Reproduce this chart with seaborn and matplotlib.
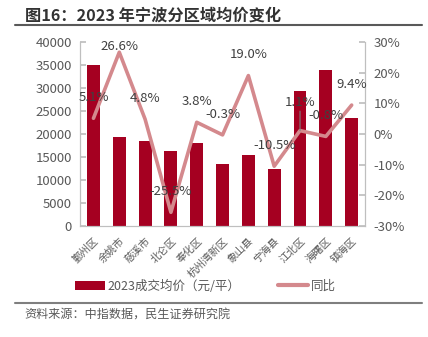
import numpy as np
import pandas as pd
import matplotlib
matplotlib.use("Agg")
import matplotlib.pyplot as plt
import seaborn as sns
from matplotlib.patches import Patch
from matplotlib.lines import Line2D
from matplotlib.ticker import FuncFormatter

districts = ["鄞州区", "余姚市", "慈溪市", "北仑区", "奉化区", "杭州湾新区", "象山县",
             "宁海县", "江北区", "海曙区", "镇海区"]
prices = [34900, 19300, 18400, 16200, 18000, 13400, 15400, 12500, 29300, 33800, 23500]
yoy = [5.1, 26.6, 4.8, -25.5, 3.8, -0.3, 19.0, -10.5, 1.1, -0.8, 9.4]
yoy_labels = ["5.1%", "26.6%", "4.8%", "-25.5%", "3.8%", "-0.3%", "19.0%", "-10.5%",
              "1.1%", "-0.8%", "9.4%"]

sns.set_theme(style="white")
plt.rcParams['font.family'] = ['Noto Sans CJK SC', 'DejaVu Sans']
plt.rcParams['axes.unicode_minus'] = False

BAR = "#A50021"
LINE = "#D4898D"
TXT = "#595959"

fig = plt.figure(figsize=(4.28, 3.37), dpi=100)
ax = fig.add_axes([0.187, 0.329, 0.666, 0.547])
df = pd.DataFrame({"district": districts, "price": prices, "yoy": yoy})
sns.barplot(data=df, x="district", y="price", color=BAR, width=0.5, ax=ax,
            saturation=1, edgecolor="none")
ax.set_ylim(0, 40000)
ax.set_yticks(np.arange(0, 40001, 5000))
ax.set_xlim(-0.52, 10.52)
ax.set_xlabel("")
ax.set_ylabel("")

ax2 = ax.twinx()
sns.lineplot(x=np.arange(len(yoy)), y=np.array(yoy) / 100, ax=ax2, color=LINE,
             linewidth=2.6)
ax2.set_ylim(-0.3, 0.3)
ax2.set_yticks(np.arange(-0.3, 0.31, 0.1))
ax2.yaxis.set_major_formatter(FuncFormatter(lambda v, p: f"{v*100:.0f}%"))
ax2.set_xlim(-0.52, 10.52)

for a in (ax, ax2):
    for s in a.spines.values():
        s.set_color("#BFBFBF")
        s.set_linewidth(0.8)
    a.spines["top"].set_visible(False)
ax.spines["bottom"].set_color("#D9D9D9")

ax.tick_params(axis="y", direction="in", length=4, color="#BFBFBF", labelsize=9.5,
               labelcolor=TXT, pad=6, left=True)
ax.tick_params(axis="x", length=0, labelsize=7.5, labelcolor=TXT, pad=7)
ax2.tick_params(axis="y", direction="in", length=4, color="#BFBFBF", labelsize=9.5,
                labelcolor=TXT, pad=6, right=True)
for lab in ax.get_xticklabels():
    lab.set_rotation(45)
    lab.set_ha("right")
    lab.set_rotation_mode("anchor")

for i, (v, t) in enumerate(zip(yoy, yoy_labels)):
    off = 15
    if i == 1:
        off = 4
    if i == 8:
        off = 20
        ax2.annotate("", xy=(i, v / 100), xytext=(0, 14), textcoords="offset points",
                     arrowprops=dict(arrowstyle="-", color="#7F7F7F", lw=0.8,
                                     shrinkA=0, shrinkB=0))
    ax2.annotate(t, xy=(i, v / 100), xytext=(0, off), textcoords="offset points",
                 ha="center", va="center", fontsize=9.5, color="#404040")

handles = [Patch(facecolor=BAR, edgecolor="none", label="2023成交均价（元/平）"),
           Line2D([0], [0], color=LINE, lw=3, label="同比")]
fig.legend(handles=handles, loc="center", bbox_to_anchor=(0.48, 0.151), ncol=2,
           frameon=False, fontsize=9, labelcolor=TXT, handlelength=2.4,
           handletextpad=0.2, columnspacing=3.0)

fig.text(0.058, 0.955, "图16：2023 年宁波分区域均价变化", fontsize=11.7, fontweight="bold",
         color="#333333", va="center", ha="left")
fig.add_artist(Line2D([0.035, 0.986], [0.926, 0.926], color="#595959", lw=1.5,
                      transform=fig.transFigure))
fig.add_artist(Line2D([0.035, 0.986], [0.101, 0.101], color="#7F7F7F", lw=1.5,
                      transform=fig.transFigure))
fig.text(0.056, 0.065, "资料来源：中指数据，民生证券研究院", fontsize=8.7, color=TXT,
         va="center", ha="left")

fig.savefig("out.png", dpi=100)
